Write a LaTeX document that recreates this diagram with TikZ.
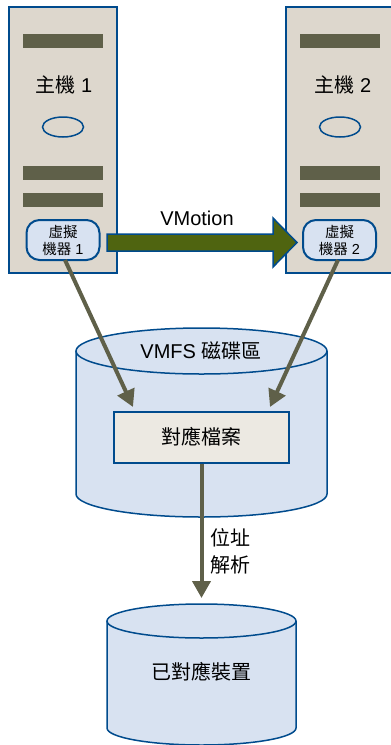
\documentclass[tikz,border=0pt]{standalone}
\usepackage{fontspec}
\setmainfont{Liberation Sans}
\newfontfamily\cjk{Noto Sans CJK TC}
\usetikzlibrary{shapes.geometric,arrows.meta,calc}
\definecolor{edgeblue}{HTML}{004B8D}
\definecolor{hostfill}{HTML}{DDD7CD}
\definecolor{barcol}{HTML}{5F6049}
\definecolor{paleblue}{HTML}{D8E2F1}
\definecolor{filefill}{HTML}{ECE9E2}
\definecolor{movegreen}{HTML}{4F6410}
\tikzset{
  hostbox/.style={draw=edgeblue,line width=1.5pt,fill=hostfill,rectangle,minimum width=108pt,minimum height=266pt,inner sep=0pt},
  hostbar/.style={fill=barcol,rectangle,minimum width=80pt,minimum height=14pt,inner sep=0pt},
  hostdisc/.style={draw=edgeblue,line width=1.5pt,ellipse,minimum width=41pt,minimum height=20pt,inner sep=0pt},
  vmbox/.style={draw=edgeblue,line width=2pt,fill=paleblue,rectangle,rounded corners=13pt,minimum width=73pt,minimum height=40pt,inner sep=0pt},
  vmtext/.style={font=\fontsize{14.5}{17}\selectfont,align=center,inner sep=0pt},
  bigtext/.style={font=\fontsize{20}{27}\selectfont,align=center,inner sep=0pt},
  cyl/.style={draw=edgeblue,line width=1.5pt,fill=paleblue},
  filebox/.style={draw=edgeblue,line width=1.5pt,fill=filefill,rectangle,minimum width=175pt,minimum height=51pt,inner sep=0pt},
  link/.style={draw=barcol,line width=4pt,-{Triangle[length=17pt,width=18pt,fill=barcol]}},
  movearrow/.style={draw=edgeblue,line width=1.5pt,fill=movegreen,line join=miter},
}
\begin{document}
\begin{tikzpicture}[x=1pt,y=-1pt]
\useasboundingbox (0,0) rectangle (391,745);
\clip (0,0) rectangle (391,745);
% hosts
\node[hostbox] (host1) at (63,140) {};
\node[hostbox] (host2) at (340,140) {};
\foreach \h/\x in {a/63,b/340}{
  \node[hostbar] (bar1\h) at (\x,41) {};
  \node[hostbar] (bar2\h) at (\x,173) {};
  \node[hostbar] (bar3\h) at (\x,200) {};
  \node[hostdisc] (disc\h) at (\x,127) {};
}
\node[bigtext] (host1t) at (64,85) {{\cjk 主機} 1};
\node[bigtext] (host2t) at (343,85) {{\cjk 主機} 2};
\node[vmbox] (vm1) at (63,240) {};
\node[vmbox] (vm2) at (339.5,240) {};
\node[vmtext] (vm1t) at (63,240) {{\cjk 虛擬}\\{\cjk 機器} 1};
\node[vmtext] (vm2t) at (339.5,240) {{\cjk 虛擬}\\{\cjk 機器} 2};
% VMotion arrow
\coordinate (mvs) at (107,242.5);
\coordinate (mve) at (297,242.5);
\draw[movearrow] ($(mvs)+(0,-8.5)$) -- (273,234) -- (273,218) -- (mve) -- (273,267) -- (273,251) -- ($(mvs)+(0,8.5)$) -- cycle;
\node[bigtext] (mvt) at (197,218) {VMotion};
% VMFS cylinder
\draw[cyl] (76,351) -- (76,494) arc[start angle=180,end angle=0,x radius=125.5,y radius=23] -- (327,351);
\draw[cyl] (201.5,351) ellipse[x radius=125.5,y radius=23];
\node[bigtext] (vmfs) at (201,351) {VMFS {\cjk 磁碟區}};
\node[filebox] (file) at (201.5,437.5) {};
\node[bigtext] (filet) at (201.5,437) {\cjk 對應檔案};
% mapped device
\draw[cyl] (107,621) -- (107,728) arc[start angle=180,end angle=0,x radius=94.5,y radius=17] -- (296,621);
\draw[cyl] (201.5,621) ellipse[x radius=94.5,y radius=17];
\node[bigtext] (dev) at (201.5,672) {\cjk 已對應裝置};
% connectors
\coordinate (t1) at (133,407);
\coordinate (t2) at (270,407);
\coordinate (t3) at (201.5,598);
\draw[link] (65,260) -- (t1);
\draw[link] (338,260) -- (t2);
\draw[link] (file.south) -- (t3);
\node[bigtext] (res) at (230,551) {\cjk 位址\\\cjk 解析};
\end{tikzpicture}
\end{document}
